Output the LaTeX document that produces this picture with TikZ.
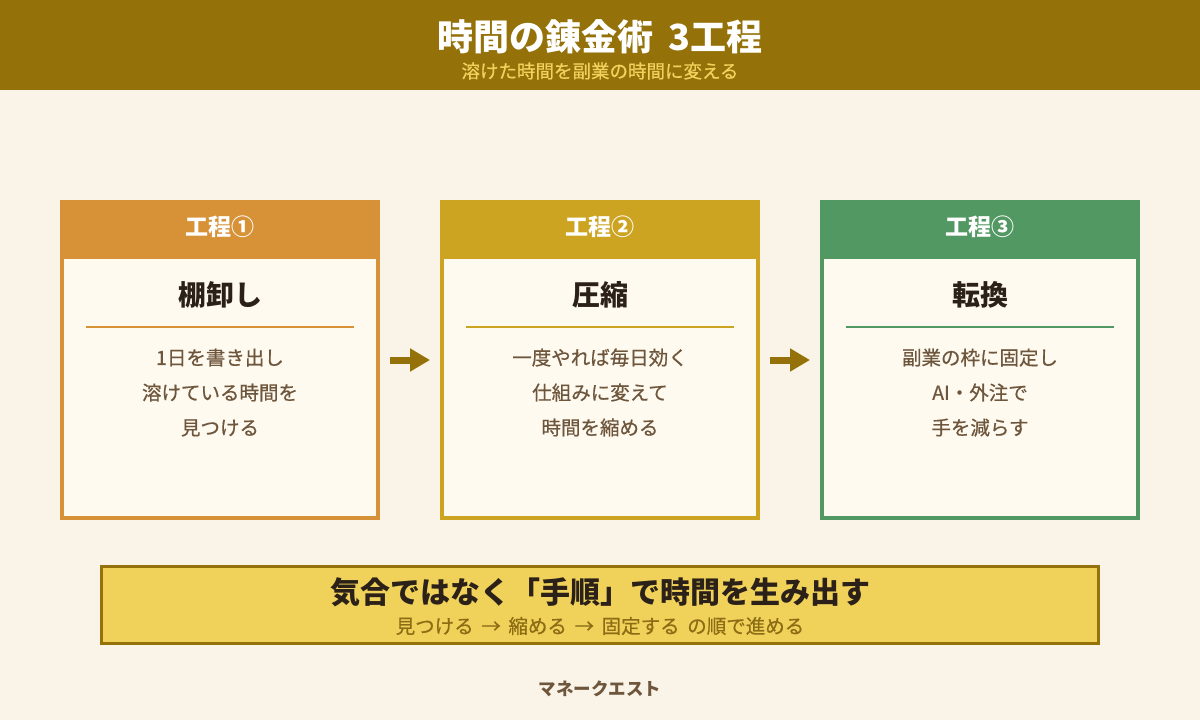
\documentclass[tikz,border=0pt]{standalone}
\usepackage{fontspec}
\setmainfont{Noto Sans CJK JP}
\newfontfamily\jpmed[FakeBold=0.6]{Noto Sans CJK JP}
\usetikzlibrary{arrows.meta,positioning,calc}
\definecolor{bgcream}{RGB}{250,243,232}
\definecolor{gold}{RGB}{149,113,9}
\definecolor{subgold}{RGB}{242,210,92}
\definecolor{stepA}{RGB}{215,146,56}
\definecolor{stepB}{RGB}{205,164,33}
\definecolor{stepC}{RGB}{81,152,98}
\definecolor{paper}{RGB}{255,250,240}
\definecolor{ink}{RGB}{43,33,24}
\definecolor{bodyink}{RGB}{110,86,60}
\definecolor{bannerfill}{RGB}{240,210,90}
\definecolor{bannerink}{RGB}{140,108,20}
\tikzset{
  stepbox/.style={draw=#1, line width=4pt, fill=paper, minimum width=316pt,
    minimum height=316pt, inner sep=0pt},
  stephead/.style={font=\fontsize{23}{26}\selectfont\bfseries, text=white},
  steptitle/.style={font=\fontsize{28}{32}\selectfont\bfseries, text=ink},
  stepbody/.style={font=\jpmed\fontsize{19.5}{35}\selectfont, text=bodyink, align=center},
  flow/.style={draw=gold, line width=7pt, shorten <=10pt, shorten >=10pt,
    -{Triangle[length=20pt,width=22pt]}},
  banner/.style={draw=gold, line width=3pt, fill=bannerfill, minimum width=997pt,
    minimum height=77pt, inner sep=0pt}
}
\begin{document}
\begin{tikzpicture}[x=1pt,y=1pt]
    \fill[bgcream] (0,0) rectangle (1200,-720);
    \useasboundingbox (0,0) rectangle (1200,-720);
    % header
    \fill[gold] (0,0) rectangle (1200,-90);
    \node[font=\fontsize{36}{40}\selectfont\bfseries, text=white] (title) at (600,-37) {時間の錬金術\,\ 3工程};
    \node[font=\jpmed\fontsize{18.5}{22}\selectfont, text=subgold] (subtitle) at (600,-71) {溶けた時間を副業の時間に変える};
    % three steps
    \foreach \i/\x/\col/\head/\ttl/\body in {
        1/220/stepA/{工程①}/{棚卸し}/{1日を書き出し\\溶けている時間を\\見つける},
        2/600/stepB/{工程②}/{圧縮}/{一度やれば毎日効く\\仕組みに変えて\\時間を縮める},
        3/980/stepC/{工程③}/{転換}/{副業の枠に固定し\\AI・外注で\\手を減らす}}{
      \node[stepbox=\col] (box\i) at (\x,-360) {};
      \fill[\col] (box\i.north west) rectangle ($(box\i.north east)+(0,-59)$);
      \node[stephead] (head\i) at (\x,-227) {\head};
      \node[steptitle] (ttl\i) at (\x,-295) {\ttl};
      \draw[\col, line width=2pt] ($(box\i.west)+(26,33)$) -- ($(box\i.east)+(-26,33)$);
      \node[stepbody, anchor=north] (body\i) at (\x,-345) {\body};
    }
    \draw[flow] (box1) -- (box2);
    \draw[flow] (box2) -- (box3);
    % bottom message
    \node[banner] (msg) at (600,-605) {};
    \node[font=\fontsize{30}{34}\selectfont\bfseries, text=ink] (msgmain) at (600,-592) {気合ではなく「手順」で時間を生み出す};
    \node[font=\jpmed\fontsize{19.5}{22}\selectfont, text=bannerink] (msgsub) at (600,-626) {見つける\,\ →\,\ 縮める\,\ →\,\ 固定する\,\ の順で進める};
    \node[font=\fontsize{17.5}{20}\selectfont\bfseries, text=bodyink] (brand) at (600,-689) {マネークエスト};
\end{tikzpicture}
\end{document}
